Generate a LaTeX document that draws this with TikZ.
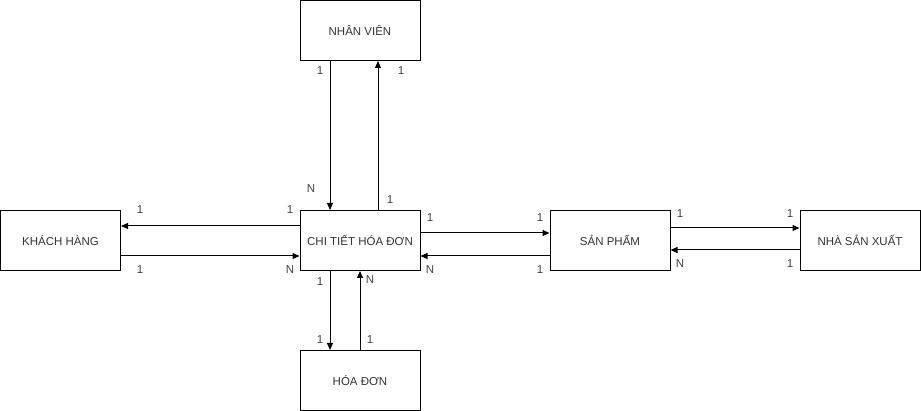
\documentclass[tikz,border=0pt]{standalone}
\usepackage{fontspec}
\setmainfont{Liberation Sans}
\usetikzlibrary{arrows.meta}
\begin{document}
\begin{tikzpicture}[x=1pt,y=-1pt,
  ent/.style={draw,line width=1pt,minimum width=120pt,minimum height=60pt,inner sep=0pt,font=\fontsize{11.5}{13}\selectfont,text=black!80},
  con/.style={line width=1pt,-{Triangle[length=7pt,width=6pt]}},
  lbl/.style={font=\fontsize{11.5}{13}\selectfont,text=black!75,inner sep=0pt}]
\useasboundingbox (0,0) rectangle (921,411);
\node[ent] (nv) at (360,30.5) {NHÂN VIÊN};
\node[ent] (kh) at (60.5,240.5) {KHÁCH HÀNG};
\node[ent] (ct) at (360,240.5) {CHI TIẾT HÓA ĐƠN};
\node[ent] (sp) at (610,240.5) {SẢN PHẨM};
\node[ent] (nsx) at (860,240.5) {NHÀ SẢN XUẤT};
\node[ent] (hd) at (360,380.5) {HÓA ĐƠN};
% NV - CT
\draw[con] (nv.south -| 330,0) -- (ct.north -| 330,0);
\draw[con] (ct.north -| 378,0) -- (nv.south -| 378,0);
% KH - CT
\draw[con] (ct.west |- 0,226) -- (kh.east |- 0,226);
\draw[con] (kh.east |- 0,256) -- (ct.west |- 0,256);
% CT - SP
\draw[con] (ct.east |- 0,233) -- (sp.west |- 0,233);
\draw[con] (sp.west |- 0,256) -- (ct.east |- 0,256);
% SP - NSX
\draw[con] (sp.east |- 0,228) -- (nsx.west |- 0,228);
\draw[con] (nsx.west |- 0,250) -- (sp.east |- 0,250);
% CT - HD
\draw[con] (ct.south -| 330,0) -- (hd.north -| 330,0);
\draw[con] (hd.north -| 360,0) -- (ct.south -| 360,0);
% labels
\node[lbl] (l1) at (320,71) {1};
\node[lbl] (l2) at (401,71) {1};
\node[lbl] (l3) at (311,189) {N};
\node[lbl] (l4) at (390,200) {1};
\node[lbl] (l5) at (140,210) {1};
\node[lbl] (l6) at (290,210) {1};
\node[lbl] (l7) at (140,270) {1};
\node[lbl] (l8) at (290,270) {N};
\node[lbl] (l9) at (430,218) {1};
\node[lbl] (l10) at (540,218) {1};
\node[lbl] (l11) at (430,270) {N};
\node[lbl] (l12) at (540,270) {1};
\node[lbl] (l13) at (680,214) {1};
\node[lbl] (l14) at (790,214) {1};
\node[lbl] (l15) at (680,264) {N};
\node[lbl] (l16) at (790,264) {1};
\node[lbl] (l17) at (320,282) {1};
\node[lbl] (l18) at (370,280) {N};
\node[lbl] (l19) at (320,340) {1};
\node[lbl] (l20) at (370,340) {1};
\end{tikzpicture}
\end{document}
